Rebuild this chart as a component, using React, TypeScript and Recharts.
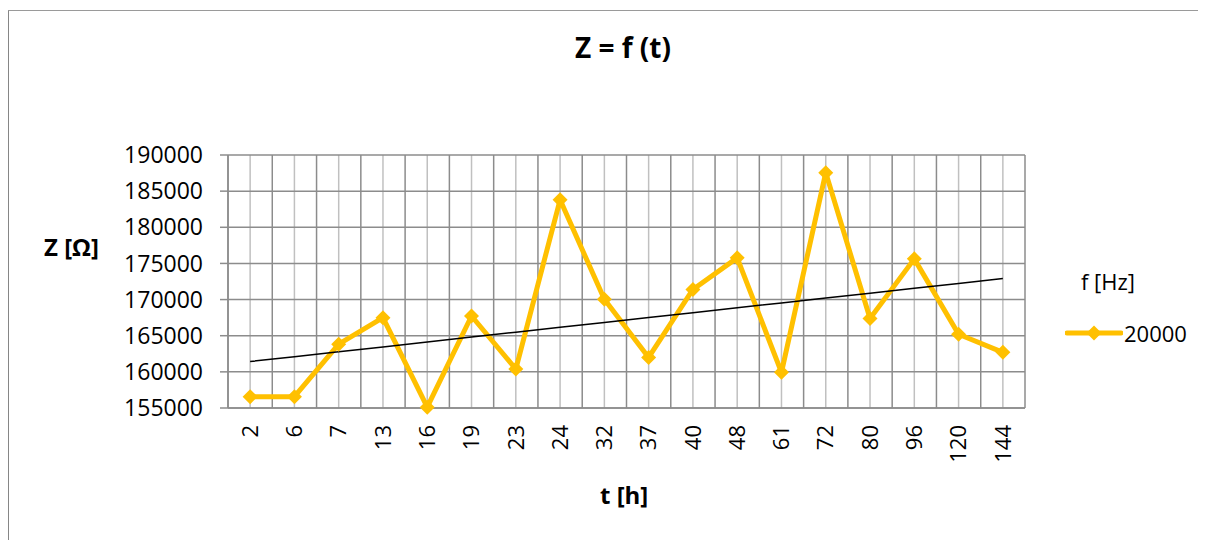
import React from 'react';
import { ComposedChart, Line, XAxis, YAxis, CartesianGrid } from 'recharts';

// time [h] categories and measured impedance at 20000 Hz
const hours = ['2', '6', '7', '13', '16', '19', '23', '24', '32', '37', '40', '48', '61', '72', '80', '96', '120', '144'];
const impedance = [156570, 156570, 163830, 167500, 155110, 167730, 160390, 183800, 170030, 162000, 171400, 175770, 159930, 187560, 167370, 175630, 165200, 162700];
const yTicks = [155000, 160000, 165000, 170000, 175000, 180000, 185000, 190000];

const FONT = '"Open Sans", "Noto Sans", sans-serif';
const GOLD = '#FFC000';

// linear trendline over the category index (like Excel's)
const n = impedance.length;
const xs = impedance.map((_, i) => i + 1);
const mx = xs.reduce((a, b) => a + b, 0) / n;
const my = impedance.reduce((a, b) => a + b, 0) / n;
const slope =
  xs.reduce((s, x, i) => s + (x - mx) * (impedance[i] - my), 0) /
  xs.reduce((s, x) => s + (x - mx) * (x - mx), 0);
const intercept = my - slope * mx;

const data = hours.map((h, i) => ({
  t: h,
  z: impedance[i],
  trend: intercept + slope * (i + 1),
}));

const Diamond = (props: any) => {
  const { cx, cy, index } = props;
  if (cx == null || cy == null) return null;
  const r = 7.5;
  return (
    <polygon
      key={`d-${index}`}
      points={`${cx},${cy - r} ${cx + r},${cy} ${cx},${cy + r} ${cx - r},${cy}`}
      fill={GOLD}
    />
  );
};

const XTick = (props: any) => {
  const { x, y, payload } = props;
  return (
    <g transform={`translate(${x},${y})`}>
      <text transform="rotate(-90)" textAnchor="end" dy="0.35em" fontSize={22} fontFamily={FONT} fill="#000">
        {payload.value}
      </text>
    </g>
  );
};

export default function App() {
  return (
    <div style={{ position: 'relative', width: 1198, height: 532, fontFamily: FONT, overflow: 'hidden' }}>
      <div
        style={{
          position: 'absolute',
          left: -1,
          top: 2,
          width: 1300,
          height: 600,
          borderLeft: '2px solid #868686',
          borderTop: '1.5px solid #9a9a9a',
        }}
      />
      <div
        style={{
          position: 'absolute',
          left: 0,
          width: 1230,
          top: 20,
          textAlign: 'center',
          fontSize: 28,
          fontWeight: 700,
        }}
      >
        Z = f (t)
      </div>
      <div style={{ position: 'absolute', left: 36, top: 222, fontSize: 24, fontWeight: 700 }}>Z [Ω]</div>
      <div style={{ position: 'absolute', left: 592, top: 470, fontSize: 24, fontWeight: 700 }}>t [h]</div>

      {/* legend */}
      <div style={{ position: 'absolute', left: 1057, top: 258, width: 140, fontSize: 22, color: '#000' }}>
        <div style={{ marginLeft: 16, marginBottom: 22, lineHeight: '30px' }}>f [Hz]</div>
        <div style={{ display: 'flex', alignItems: 'center' }}>
          <svg width={58} height={20}>
            <line x1={2} y1={10} x2={56} y2={10} stroke={GOLD} strokeWidth={5} strokeLinecap="round" />
            <polygon points="29,2.5 36.5,10 29,17.5 21.5,10" fill={GOLD} />
          </svg>
          <span style={{ marginLeft: 1 }}>20000</span>
        </div>
      </div>

      <div style={{ position: 'absolute', left: 0, top: 0 }}>
        <ComposedChart width={1198} height={532} data={data} margin={{ top: 147, right: 181, bottom: 72, left: 0 }}>
          <CartesianGrid
            stroke="#c0c0c0"
            strokeWidth={1.5}
            horizontal={false}
            verticalCoordinatesGenerator={({ offset }: any) =>
              hours.map((_, i) => offset.left + ((i + 0.5) * offset.width) / hours.length)
            }
          />
          <CartesianGrid
            stroke="#8c8c8c"
            strokeWidth={1.5}
            verticalCoordinatesGenerator={({ offset }: any) =>
              [...hours, ''].map((_, i) => offset.left + (i * offset.width) / hours.length)
            }
          />
          <XAxis
            dataKey="t"
            scale="band"
            height={60}
            interval={0}
            tick={<XTick />}
            tickLine={false}
            tickSize={0}
            tickMargin={17}
            axisLine={{ stroke: '#8c8c8c', strokeWidth: 1.5 }}
          />
          <YAxis
            domain={[155000, 190000]}
            ticks={yTicks}
            width={220}
            interval={0}
            tick={{ fontSize: 23, fill: '#000', fontFamily: FONT }}
            tickLine={{ stroke: '#8c8c8c', strokeWidth: 1.5 }}
            tickSize={8}
            tickMargin={17}
            axisLine={{ stroke: '#8c8c8c', strokeWidth: 1.5 }}
          />
          <Line
            dataKey="z"
            name="20000"
            stroke={GOLD}
            strokeWidth={5}
            strokeLinejoin="round"
            dot={<Diamond />}
            activeDot={false}
            isAnimationActive={false}
          />
          <Line
            dataKey="trend"
            legendType="none"
            stroke="#000"
            strokeWidth={1.5}
            dot={false}
            activeDot={false}
            isAnimationActive={false}
          />
        </ComposedChart>
      </div>
    </div>
  );
}
